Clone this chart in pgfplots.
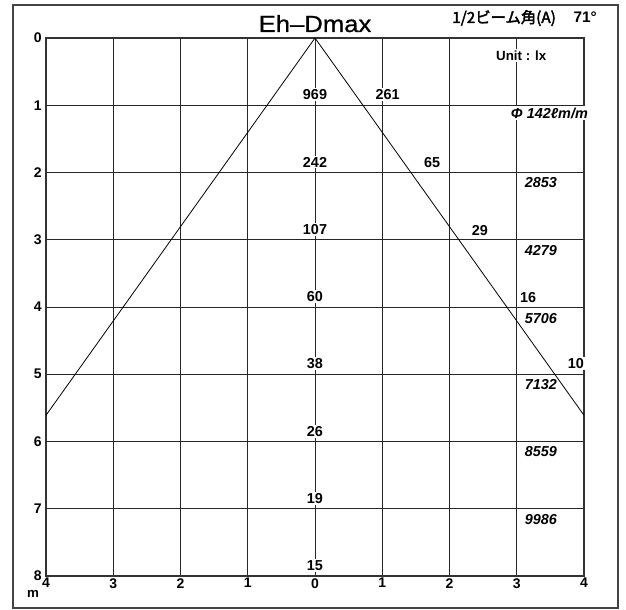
\documentclass[border=0pt]{standalone}
\usepackage{fontspec}
\setmainfont{Liberation Sans}
\newfontfamily\jp[FakeBold=2.5]{Noto Sans CJK JP}
\newfontfamily\ttl[FakeStretch=1.1,FakeBold=0.8]{Liberation Sans}
\usepackage{pgfplots}
\pgfplotsset{compat=1.18}
\definecolor{framegray}{HTML}{444444}

\begin{document}
\begin{tikzpicture}[
  lbl/.style={font=\bfseries\fontsize{10.8}{12}\selectfont, fill=white, inner sep=1pt, anchor=base},
  itl/.style={font=\bfseries\itshape\fontsize{10.8}{12}\selectfont, inner sep=1pt, anchor=base},
]
% page is 626x610 px, 1px = 0.75pt, y measured downwards
\begin{scope}[x=0.75pt,y=-0.75pt]
  \useasboundingbox (0,0) rectangle (626,610);
  \fill[white] (0,0) rectangle (626,610);
  \draw[framegray, line width=0.9pt] (13,5) rectangle (618,608);
  \node[anchor=base, inner sep=0, font=\ttl\fontsize{17.5}{20}\selectfont] at (315,32) {Eh–Dmax};
  \node[anchor=base west, inner sep=0, font=\jp\fontsize{11.5}{14}\selectfont] at (452,23) {1/2ビーム角(A)};
  \node[anchor=base east, inner sep=0, font=\bfseries\fontsize{11.5}{14}\selectfont] at (597,23) {71°};
  \node[anchor=base, inner sep=0, font=\bfseries\fontsize{10}{11}\selectfont] at (33,597) {m};
\end{scope}

\begin{axis}[
  at={(236.25pt,-28.5pt)}, anchor=origin,
  scale only axis, width=403.5pt, height=403.5pt,
  xmin=-4, xmax=4, ymin=0, ymax=8, y dir=reverse,
  xtick={-4,...,4}, ytick={0,...,8},
  xticklabels={4,3,2,1,0,1,2,3,4},
  yticklabels={0,1,2,3,4,5,6,7,8},
  grid=major,
  major grid style={black!85, line width=0.6pt},
  axis line style={black!80, line width=1.3pt},
  major tick length=0pt,
  ticklabel style={font=\bfseries\fontsize{10.5}{12}\selectfont},
  xticklabel style={inner sep=1.5pt},
  yticklabel style={inner sep=3pt},
  clip=false,
]
\addplot[black, line width=0.6pt, mark=none] coordinates {(-4,5.61) (0,0) (4,5.61)};

% illuminance at the centre
\node[lbl] at (axis cs:0,0.92) {969};
\node[lbl] at (axis cs:0,1.92) {242};
\node[lbl] at (axis cs:0,2.92) {107};
\node[lbl] at (axis cs:0,3.92) {60};
\node[lbl] at (axis cs:0,4.92) {38};
\node[lbl] at (axis cs:0,5.92) {26};
\node[lbl] at (axis cs:0,6.92) {19};
\node[lbl] at (axis cs:0,7.92) {15};

% illuminance at the beam edge
\node[lbl] at (axis cs:1.08,0.92) {261};
\node[lbl] at (axis cs:1.74,1.93) {65};
\node[lbl] at (axis cs:2.45,2.93) {29};
\node[lbl] at (axis cs:3.17,3.93) {16};
\node[lbl] at (axis cs:3.88,4.92) {10};

% beam diameter
\node[lbl, font=\bfseries\itshape\fontsize{10.8}{12}\selectfont, anchor=base west] at (axis cs:2.89,1.19) {Φ 142ℓm/m};
\node[itl] at (axis cs:3.36,2.23) {2853};
\node[itl] at (axis cs:3.36,3.23) {4279};
\node[itl] at (axis cs:3.36,4.24) {5706};
\node[itl] at (axis cs:3.36,5.23) {7132};
\node[itl] at (axis cs:3.36,6.23) {8559};
\node[itl] at (axis cs:3.36,7.23) {9986};

\node[lbl, font=\bfseries\fontsize{10}{11}\selectfont, anchor=base west] at (axis cs:2.67,0.33) {Unit : lx};
\end{axis}
\end{tikzpicture}
\end{document}
